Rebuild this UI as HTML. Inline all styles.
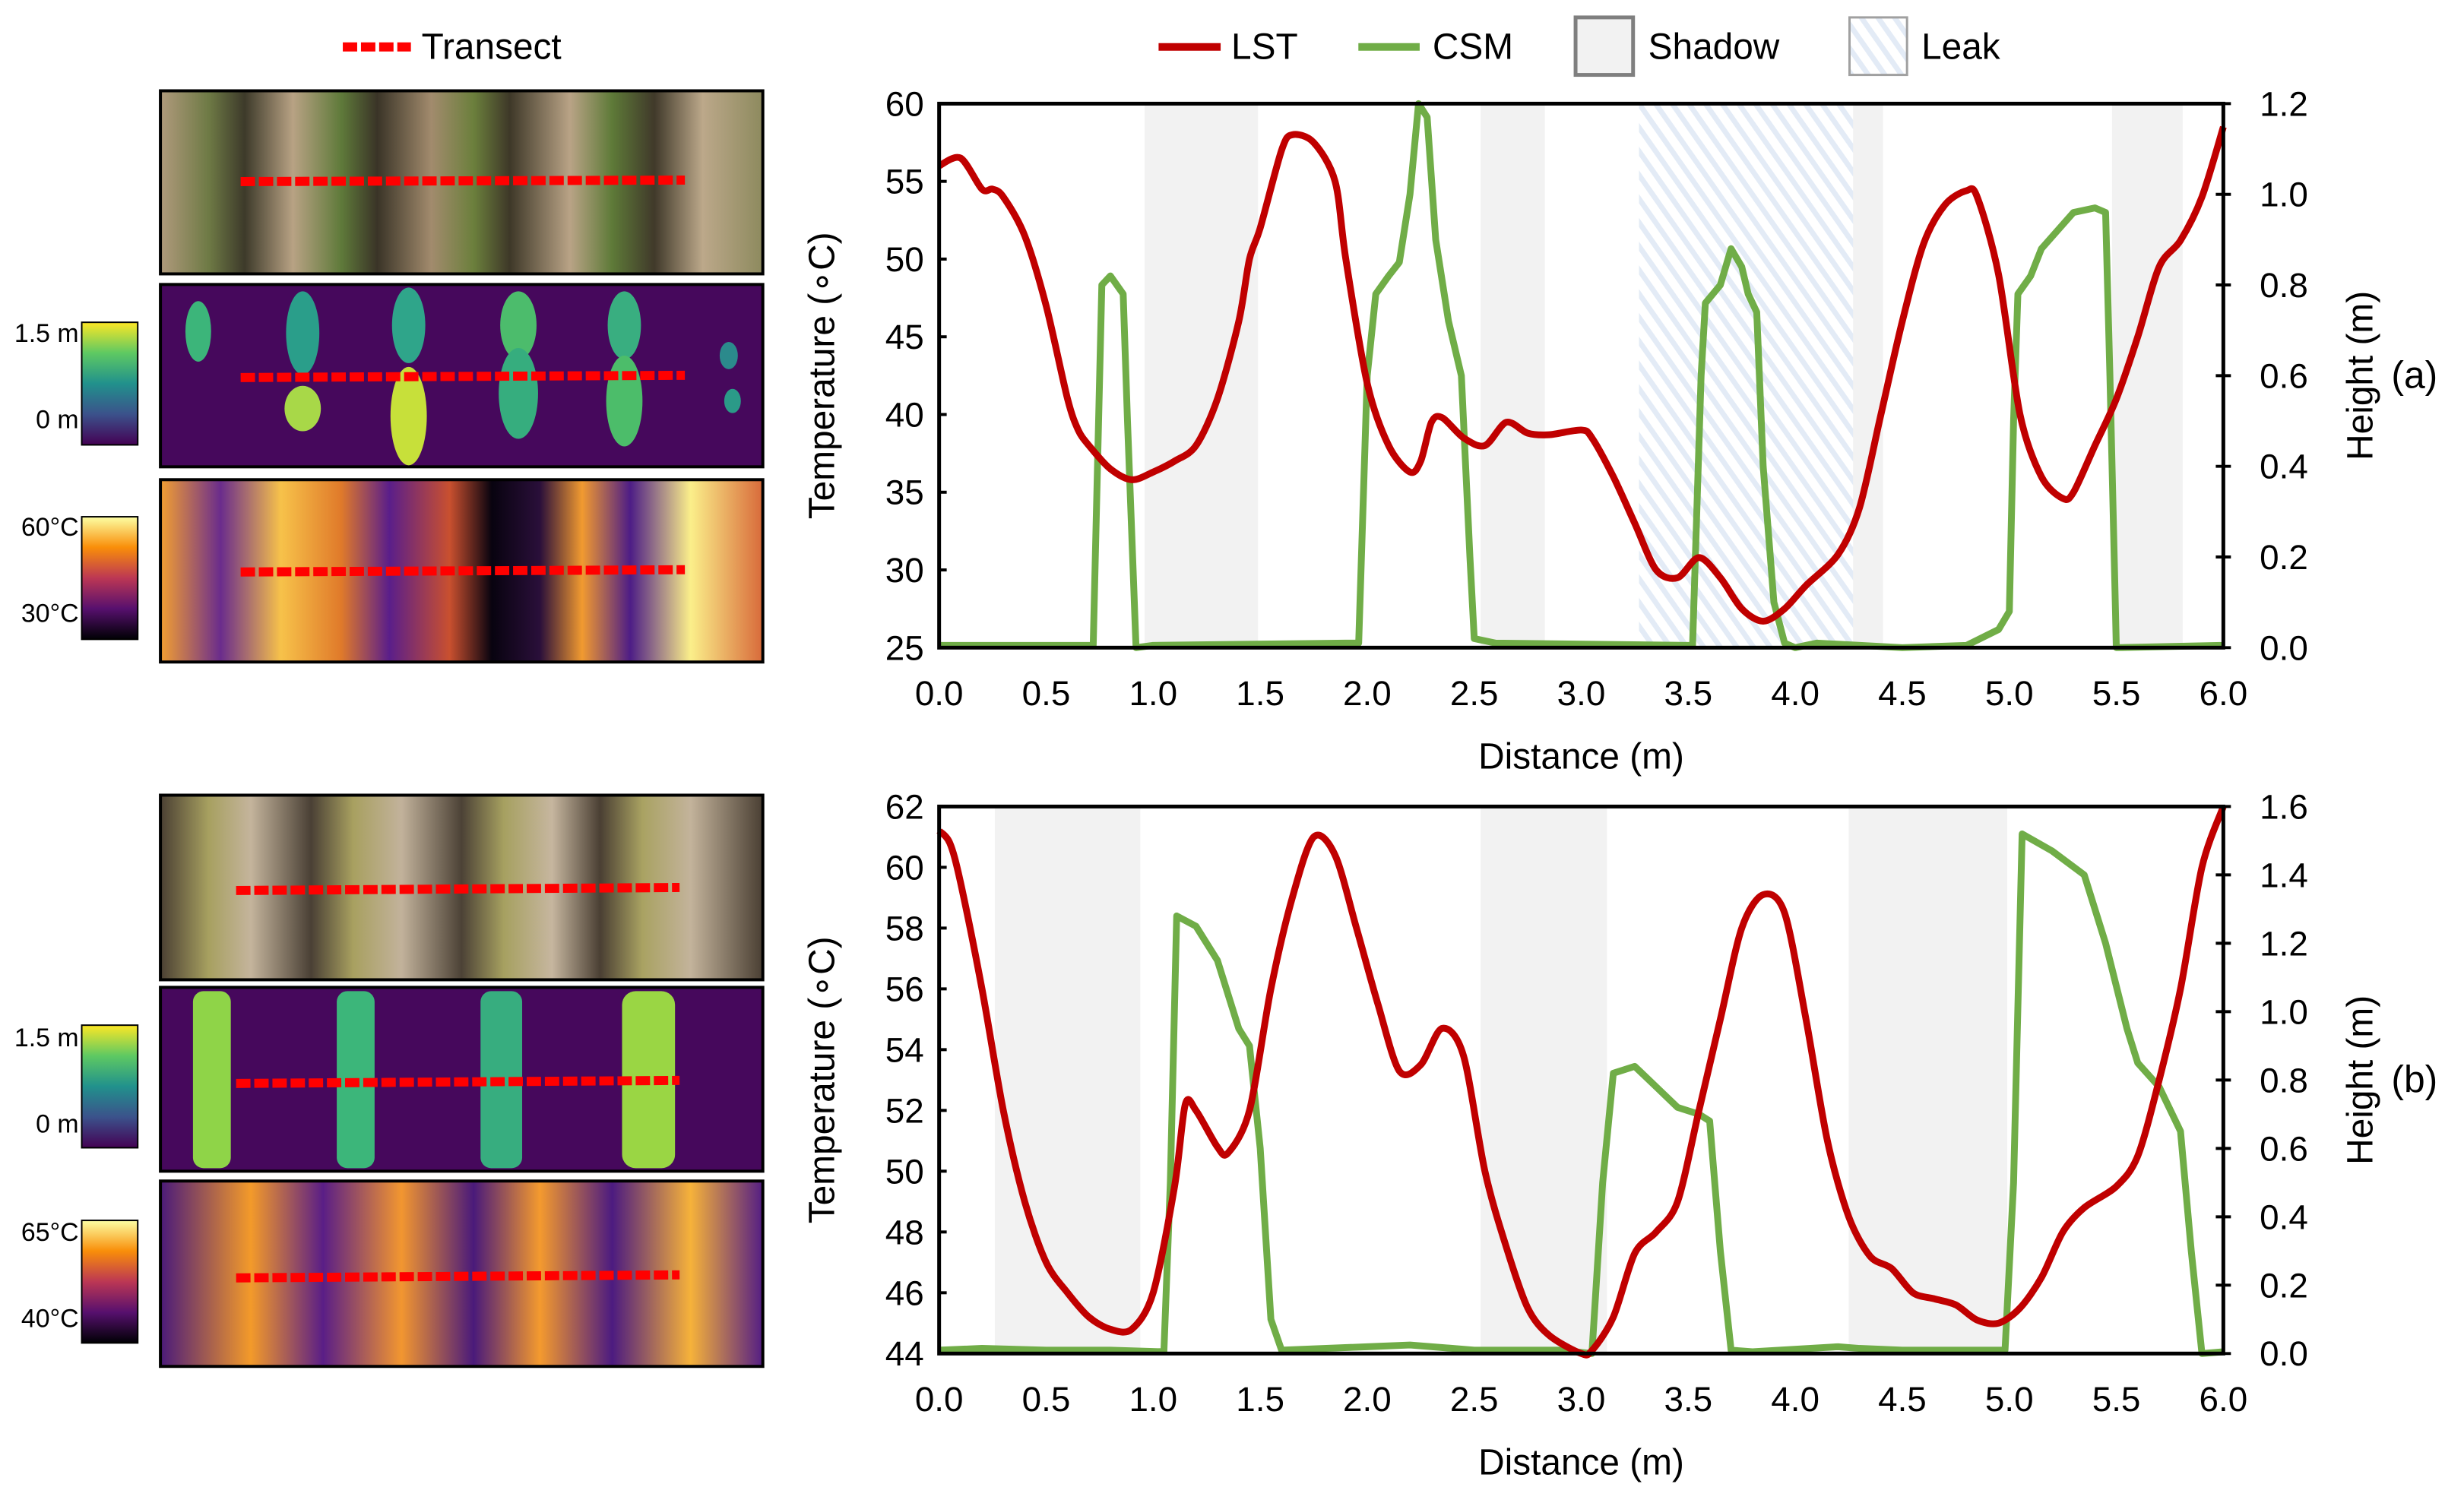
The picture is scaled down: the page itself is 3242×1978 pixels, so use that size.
<!DOCTYPE html>
<html><head><meta charset="utf-8">
<style>
body{margin:0;background:#fff;}
svg{display:block;font-family:"Liberation Sans",Arial,sans-serif;}
</style></head>
<body>
<svg id="fig" width="3242" height="1978" viewBox="0 0 3242 1978" xmlns="http://www.w3.org/2000/svg">
<defs>
<pattern id="leakPat" patternUnits="userSpaceOnUse" width="18" height="18" patternTransform="rotate(-35)">
<rect width="18" height="18" fill="#fff"/><rect width="7" height="18" fill="#e3ebf6"/>
</pattern>
<linearGradient id="viridis" x1="0" y1="1" x2="0" y2="0">
<stop offset="0" stop-color="#440154"/><stop offset="0.25" stop-color="#3b528b"/><stop offset="0.5" stop-color="#21918c"/><stop offset="0.75" stop-color="#5ec962"/><stop offset="1" stop-color="#fde725"/></linearGradient>
<linearGradient id="inferno" x1="0" y1="1" x2="0" y2="0">
<stop offset="0" stop-color="#000004"/><stop offset="0.25" stop-color="#57106e"/><stop offset="0.5" stop-color="#bc3754"/><stop offset="0.75" stop-color="#f98e09"/><stop offset="1" stop-color="#fcffa4"/></linearGradient>
<linearGradient id="rgbA" x1="0" x2="1">
<stop offset="0" stop-color="#b09a7c"/><stop offset="0.08" stop-color="#6e7a45"/><stop offset="0.14" stop-color="#3d3a2a"/><stop offset="0.22" stop-color="#b8a284"/><stop offset="0.3" stop-color="#5f7a3a"/><stop offset="0.36" stop-color="#3a3427"/><stop offset="0.45" stop-color="#a28b6d"/><stop offset="0.52" stop-color="#6b7f3c"/><stop offset="0.58" stop-color="#3e3828"/><stop offset="0.68" stop-color="#b9a386"/><stop offset="0.75" stop-color="#5e7a38"/><stop offset="0.82" stop-color="#40392a"/><stop offset="0.9" stop-color="#bca88a"/><stop offset="1" stop-color="#8d8a5e"/></linearGradient>
<linearGradient id="rgbB" x1="0" x2="1">
<stop offset="0" stop-color="#4a3f33"/><stop offset="0.08" stop-color="#a7a060"/><stop offset="0.15" stop-color="#c4b49c"/><stop offset="0.25" stop-color="#4a4035"/><stop offset="0.32" stop-color="#a8a060"/><stop offset="0.4" stop-color="#c2b29b"/><stop offset="0.5" stop-color="#4c4236"/><stop offset="0.57" stop-color="#a6a060"/><stop offset="0.65" stop-color="#c6b69f"/><stop offset="0.73" stop-color="#4a3f33"/><stop offset="0.8" stop-color="#a9a262"/><stop offset="0.88" stop-color="#c3b39b"/><stop offset="1" stop-color="#4a3f33"/></linearGradient>
<linearGradient id="thA" x1="0" x2="1">
<stop offset="0" stop-color="#f3a032"/><stop offset="0.1" stop-color="#6a2c8c"/><stop offset="0.2" stop-color="#f7c24a"/><stop offset="0.3" stop-color="#e07a2a"/><stop offset="0.38" stop-color="#5a1e8a"/><stop offset="0.48" stop-color="#c9502f"/><stop offset="0.55" stop-color="#08030f"/><stop offset="0.63" stop-color="#2a0f3a"/><stop offset="0.7" stop-color="#f19a30"/><stop offset="0.78" stop-color="#4d1d86"/><stop offset="0.88" stop-color="#fbef8a"/><stop offset="1" stop-color="#d86a3a"/></linearGradient>
<linearGradient id="thB" x1="0" x2="1">
<stop offset="0" stop-color="#4a1a7a"/><stop offset="0.15" stop-color="#f39a2a"/><stop offset="0.27" stop-color="#5a1e86"/><stop offset="0.4" stop-color="#f29630"/><stop offset="0.52" stop-color="#4a1a7a"/><stop offset="0.63" stop-color="#f49a2e"/><stop offset="0.75" stop-color="#4c1b80"/><stop offset="0.88" stop-color="#f6b23a"/><stop offset="1" stop-color="#541e84"/></linearGradient>
</defs>
<g transform="scale(0.9957)">

<g>
<line x1="453" y1="62" x2="543" y2="62" stroke="#ff0000" stroke-width="12" stroke-dasharray="19,5"/>
<text x="557" y="78" font-size="48" fill="#000">Transect</text>
</g>

<g>
<rect x="212" y="120" width="796" height="242" fill="url(#rgbA)" stroke="#000" stroke-width="4"/>
<rect x="212" y="376" width="796" height="241" fill="#46085c" stroke="#000" stroke-width="4"/>
<g fill="#3cb57a">
<ellipse cx="262" cy="438" rx="17" ry="40"/><ellipse cx="400" cy="440" rx="22" ry="55" fill="#2a9e8a"/><ellipse cx="400" cy="540" rx="24" ry="30" fill="#a8d848"/>
<ellipse cx="540" cy="430" rx="22" ry="50" fill="#2fa58a"/><ellipse cx="540" cy="550" rx="24" ry="65" fill="#c7e03a"/>
<ellipse cx="685" cy="430" rx="24" ry="45" fill="#4cbc6c"/><ellipse cx="685" cy="520" rx="26" ry="60" fill="#36ad7e"/>
<ellipse cx="825" cy="430" rx="22" ry="45" fill="#39ae80"/><ellipse cx="825" cy="530" rx="24" ry="60" fill="#4cbd6a"/>
<ellipse cx="963" cy="470" rx="12" ry="18" fill="#2b8a8c"/><ellipse cx="968" cy="530" rx="11" ry="16" fill="#2b9a88"/>
</g>
<rect x="212" y="634" width="796" height="241" fill="url(#thA)" stroke="#000" stroke-width="4"/>
<line x1="318" y1="240" x2="905" y2="238" stroke="#ff0000" stroke-width="12" stroke-dasharray="19,5"/>
<line x1="318" y1="499" x2="905" y2="496" stroke="#ff0000" stroke-width="12" stroke-dasharray="19,5"/>
<line x1="318" y1="756" x2="905" y2="753" stroke="#ff0000" stroke-width="12" stroke-dasharray="19,5"/>
<rect x="108" y="426" width="74" height="162" fill="url(#viridis)" stroke="#000" stroke-width="2"/>
<text x="104" y="452" font-size="34" text-anchor="end">1.5 m</text>
<text x="104" y="566" font-size="34" text-anchor="end">0 m</text>
<rect x="108" y="683" width="74" height="162" fill="url(#inferno)" stroke="#000" stroke-width="2"/>
<text x="104" y="708" font-size="34" text-anchor="end">60°C</text>
<text x="104" y="822" font-size="34" text-anchor="end">30°C</text>
</g>

<g>
<rect x="212" y="1051" width="796" height="244" fill="url(#rgbB)" stroke="#000" stroke-width="4"/>
<rect x="212" y="1305" width="796" height="243" fill="#46085c" stroke="#000" stroke-width="4"/>
<rect x="255" y="1310" width="50" height="234" rx="14" fill="#8fd448"/>
<rect x="445" y="1310" width="50" height="234" rx="14" fill="#3cb67a"/>
<rect x="635" y="1310" width="55" height="234" rx="14" fill="#37ad7f"/>
<rect x="822" y="1310" width="70" height="234" rx="18" fill="#9ad644"/>
<rect x="212" y="1561" width="796" height="245" fill="url(#thB)" stroke="#000" stroke-width="4"/>
<line x1="312" y1="1177" x2="898" y2="1173" stroke="#ff0000" stroke-width="12" stroke-dasharray="19,5"/>
<line x1="312" y1="1432" x2="898" y2="1428" stroke="#ff0000" stroke-width="12" stroke-dasharray="19,5"/>
<line x1="312" y1="1689" x2="898" y2="1685" stroke="#ff0000" stroke-width="12" stroke-dasharray="19,5"/>
<rect x="108" y="1355" width="74" height="162" fill="url(#viridis)" stroke="#000" stroke-width="2"/>
<text x="104" y="1383" font-size="34" text-anchor="end">1.5 m</text>
<text x="104" y="1497" font-size="34" text-anchor="end">0 m</text>
<rect x="108" y="1613" width="74" height="162" fill="url(#inferno)" stroke="#000" stroke-width="2"/>
<text x="104" y="1640" font-size="34" text-anchor="end">65°C</text>
<text x="104" y="1754" font-size="34" text-anchor="end">40°C</text>
</g>

<g>
<line x1="1531" y1="62" x2="1613" y2="62" stroke="#c00000" stroke-width="10"/>
<text x="1627" y="78" font-size="48">LST</text>
<line x1="1795" y1="62" x2="1876" y2="62" stroke="#70ad47" stroke-width="10"/>
<text x="1893" y="78" font-size="48">CSM</text>
<rect x="2082" y="23" width="76" height="76" fill="#f2f2f2" stroke="#7f7f7f" stroke-width="5"/>
<text x="2178" y="78" font-size="48">Shadow</text>
<rect x="2444" y="23" width="76" height="76" fill="url(#leakPat)" stroke="#a0a0a0" stroke-width="3"/>
<text x="2539" y="78" font-size="48">Leak</text>
</g>

<g id="chartA"></g>
<g id="chartB"></g>
</g>
</svg>
<script>
const aLstX = [0,0.1,0.2,0.25,0.3,0.4,0.5,0.6,0.65,0.7,0.8,0.9,1.0,1.1,1.2,1.3,1.4,1.45,1.5,1.6,1.65,1.75,1.85,1.9,2.0,2.1,2.2,2.25,2.3,2.35,2.45,2.55,2.65,2.75,2.85,3.0,3.05,3.15,3.25,3.35,3.45,3.55,3.65,3.75,3.85,3.95,4.05,4.2,4.3,4.4,4.5,4.6,4.7,4.8,4.85,4.95,5.05,5.15,5.25,5.3,5.4,5.5,5.6,5.7,5.8,5.9,6.0];
const aLstY = [56,56.5,54.5,54.5,54,51.5,47,41,39,38,36.5,35.8,36.3,37,38,41,46,50,52,57,58,57.5,55,50,42,38,36.3,37,39.5,39.8,38.5,38,39.5,38.8,38.7,39,38.5,36,33,30,29.5,30.8,29.5,27.5,26.7,27.5,29,31,34,40,46,51,53.5,54.4,54,49,40,36,34.6,35,38,41,45,49.5,51.2,54,58.5];
const aCsmX = [0,0.7,0.72,0.76,0.8,0.86,0.88,0.92,1.0,1.9,1.96,2.0,2.04,2.1,2.15,2.2,2.24,2.28,2.32,2.38,2.44,2.48,2.5,2.6,3.5,3.52,3.56,3.58,3.65,3.7,3.75,3.78,3.82,3.85,3.9,3.95,4.0,4.1,4.5,4.8,4.95,5.0,5.02,5.04,5.1,5.15,5.3,5.4,5.45,5.47,5.5,6.0];
const aCsmY = [0.005,0.005,0.005,0.8,0.82,0.78,0.5,0.0,0.005,0.01,0.01,0.6,0.78,0.82,0.85,1.0,1.2,1.17,0.9,0.72,0.6,0.2,0.02,0.01,0.005,0.005,0.6,0.76,0.8,0.88,0.84,0.78,0.74,0.4,0.1,0.01,0.0,0.01,0.0,0.005,0.04,0.08,0.5,0.78,0.82,0.88,0.96,0.97,0.96,0.6,0.0,0.005];
const aShadowStart = [0.96,2.53,3.27,5.48];
const aShadowEnd = [1.49,2.83,4.41,5.81];
const aLeakStart = [3.27];
const aLeakEnd = [4.27];
const aTempTicks = [25,30,35,40,45,50,55,60];
const aHeightTicks = [0,0.2,0.4,0.6,0.8,1.0,1.2];
const xTicks = [0,0.5,1,1.5,2,2.5,3,3.5,4,4.5,5,5.5,6];

const bLstX = [0,0.05,0.1,0.2,0.3,0.4,0.5,0.6,0.7,0.8,0.9,1.0,1.1,1.15,1.2,1.3,1.35,1.45,1.55,1.65,1.75,1.85,1.95,2.05,2.15,2.25,2.35,2.45,2.55,2.65,2.75,2.85,3.0,3.05,3.15,3.25,3.35,3.45,3.55,3.65,3.75,3.85,3.95,4.05,4.15,4.25,4.35,4.45,4.55,4.65,4.75,4.85,4.95,5.05,5.15,5.25,5.35,5.5,5.6,5.7,5.8,5.9,6.0];
const bLstY = [61.2,60.8,59.5,56,52,49,47,46,45.2,44.8,44.8,46,49.5,52.2,52,50.8,50.6,52,56,59,61,60.4,58,55.5,53.3,53.5,54.7,53.8,50,47.5,45.5,44.6,44.0,44.1,45.2,47.3,48,49,52,55,58,59.1,58.5,55,51,48.5,47.2,46.8,46,45.8,45.6,45.1,45,45.5,46.5,48,48.8,49.5,50.5,53,56,60,62];
const bCsmX = [0,0.2,0.5,0.8,1.05,1.08,1.11,1.2,1.3,1.4,1.45,1.5,1.55,1.6,2.0,2.2,2.5,2.9,3.05,3.1,3.15,3.25,3.35,3.45,3.55,3.6,3.65,3.7,3.8,4.2,4.3,4.5,4.98,5.02,5.06,5.2,5.35,5.45,5.55,5.6,5.7,5.8,5.85,5.9,6.0];
const bCsmY = [0.01,0.015,0.01,0.01,0.005,0.5,1.28,1.25,1.15,0.95,0.9,0.6,0.1,0.01,0.02,0.025,0.01,0.01,0.0,0.5,0.82,0.84,0.78,0.72,0.7,0.68,0.3,0.01,0.005,0.02,0.015,0.01,0.01,0.5,1.52,1.47,1.4,1.2,0.95,0.85,0.78,0.65,0.3,0.0,0.005];
const bShadowStart = [0.26,2.53,4.25];
const bShadowEnd = [0.94,3.12,4.99];
const bTempTicks = [44,46,48,50,52,54,56,58,60,62];
const bHeightTicks = [0,0.2,0.4,0.6,0.8,1.0,1.2,1.4,1.6];

const NS = 'http://www.w3.org/2000/svg';
function mk(parent, tag, attrs, txt){
  const e = document.createElementNS(NS, tag);
  for (const k in attrs) e.setAttribute(k, attrs[k]);
  if (txt !== undefined) e.textContent = txt;
  parent.appendChild(e);
  return e;
}
function smooth(pts){
  let d = 'M'+pts[0][0].toFixed(1)+','+pts[0][1].toFixed(1);
  for (let i=0;i<pts.length-1;i++){
    const p0=pts[Math.max(0,i-1)], p1=pts[i], p2=pts[i+1], p3=pts[Math.min(pts.length-1,i+2)];
    const t=0.15;
    const c1=[p1[0]+(p2[0]-p0[0])*t, p1[1]+(p2[1]-p0[1])*t];
    const c2=[p2[0]-(p3[0]-p1[0])*t, p2[1]-(p3[1]-p1[1])*t];
    d+=` C${c1[0].toFixed(1)},${c1[1].toFixed(1)} ${c2[0].toFixed(1)},${c2[1].toFixed(1)} ${p2[0].toFixed(1)},${p2[1].toFixed(1)}`;
  }
  return d;
}
function poly(pts){
  return pts.map((p,i)=>(i?'L':'M')+p[0].toFixed(1)+','+p[1].toFixed(1)).join(' ');
}

function drawChart(g, cfg){
  const L=1241, R=2938, T=cfg.top, B=cfg.bottom;
  const sx = v => L + (v-0)/(6-0)*(R-L);
  const syL = v => B - (v-cfg.tMin)/(cfg.tMax-cfg.tMin)*(B-T);
  const syR = v => B - (v-0)/(cfg.hMax)*(B-T);
  for (let i=0;i<cfg.shS.length;i++){
    const r = mk(g,'rect',{x:sx(cfg.shS[i]),y:T,width:sx(cfg.shE[i])-sx(cfg.shS[i]),height:B-T,fill:'#f2f2f2'});
    
    
  }
  for (let i=0;i<cfg.lkS.length;i++){
    const r = mk(g,'rect',{x:sx(cfg.lkS[i]),y:T,width:sx(cfg.lkE[i])-sx(cfg.lkS[i]),height:B-T,fill:'url(#leakPat)'});
    
    
  }
  const pc = mk(g,'path',{d:poly(cfg.csmX.map((x,i)=>[sx(x),syR(cfg.csmY[i])])),fill:'none',stroke:'#70ad47','stroke-width':9,'stroke-linejoin':'round'});
  
  
  const pl = mk(g,'path',{d:smooth(cfg.lstX.map((x,i)=>[sx(x),syL(cfg.lstY[i])])),fill:'none',stroke:'#c00000','stroke-width':9,'stroke-linejoin':'round'});
  
  
  mk(g,'rect',{x:L,y:T,width:R-L,height:B-T,fill:'none',stroke:'#000','stroke-width':5});
  cfg.tTicks.forEach(v=>{
    const t = mk(g,'text',{x:L-20,y:syL(v)+16,'font-size':46,'text-anchor':'end'},String(v));
    
    
    mk(g,'line',{x1:L,x2:L+10,y1:syL(v),y2:syL(v),stroke:'#000','stroke-width':4});
  });
  cfg.hTicks.forEach(v=>{
    const t = mk(g,'text',{x:R+48,y:syR(v)+16,'font-size':46},v.toFixed(1));
    
    
    mk(g,'line',{x1:R-10,x2:R+10,y1:syR(v),y2:syR(v),stroke:'#000','stroke-width':4});
  });
  xTicks.forEach(v=>{
    const t = mk(g,'text',{x:sx(v),y:B+76,'font-size':46,'text-anchor':'middle'},v.toFixed(1));
    
    
  });
  const xt = mk(g,'text',{x:(L+R)/2,y:B+160,'font-size':48,'text-anchor':'middle'},'Distance (m)');
  
  
  const yc = (T+B)/2;
  const yt = mk(g,'text',{x:0,y:0,'font-size':48,'text-anchor':'middle',transform:`translate(1102,${yc}) rotate(-90)`},'Temperature (∘C)');
  
  
  const yr = mk(g,'text',{x:0,y:0,'font-size':48,'text-anchor':'middle',transform:`translate(3135,${yc}) rotate(-90)`},'Height (m)');
  
  
  const lb = mk(g,'text',{x:3160,y:yc+16,'font-size':50},cfg.label);
  
  
}

drawChart(document.getElementById('chartA'),{top:137,bottom:856,tMin:25,tMax:60,hMax:1.2,
  lstX:aLstX,lstY:aLstY,csmX:aCsmX,csmY:aCsmY,shS:aShadowStart,shE:aShadowEnd,lkS:aLeakStart,lkE:aLeakEnd,
  tTicks:aTempTicks,hTicks:aHeightTicks,label:'(a)'});
drawChart(document.getElementById('chartB'),{top:1066,bottom:1789,tMin:44,tMax:62,hMax:1.6,
  lstX:bLstX,lstY:bLstY,csmX:bCsmX,csmY:bCsmY,shS:bShadowStart,shE:bShadowEnd,lkS:[],lkE:[],
  tTicks:bTempTicks,hTicks:bHeightTicks,label:'(b)'});
</script>
</body></html>
